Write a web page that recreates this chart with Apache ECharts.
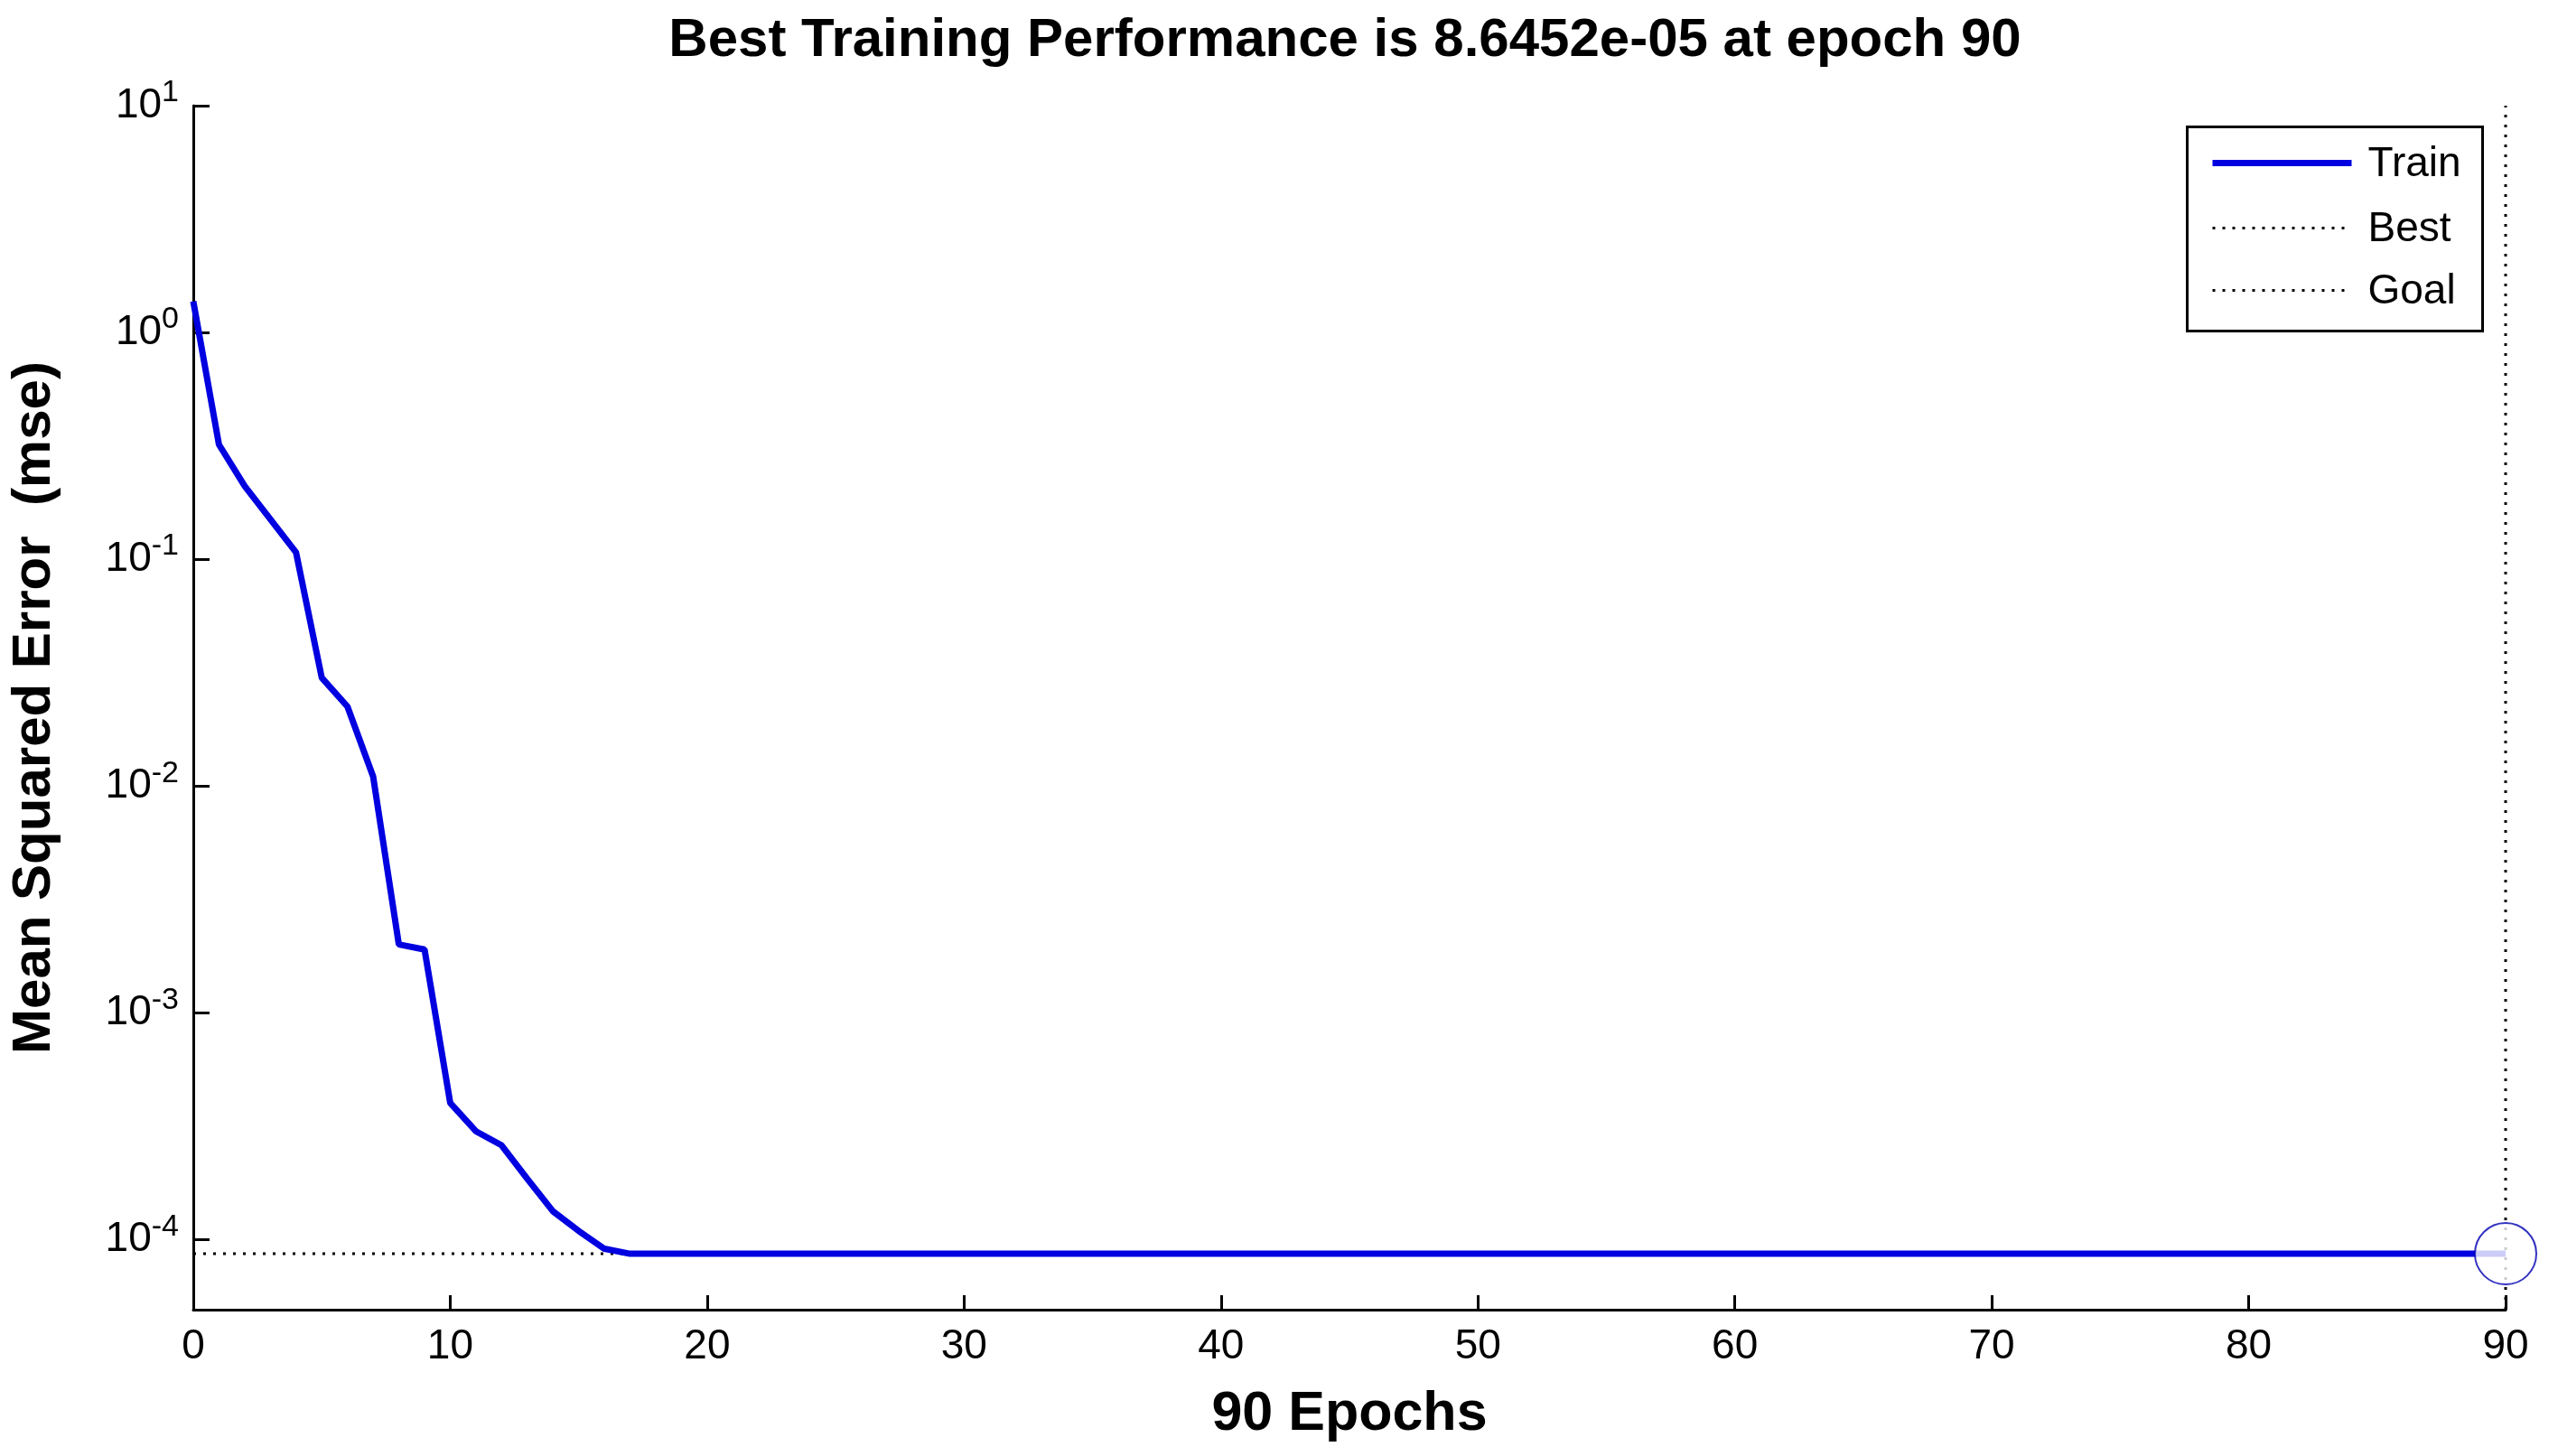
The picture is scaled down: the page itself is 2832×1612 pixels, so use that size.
<!DOCTYPE html>
<html><head><meta charset="utf-8">
<script src="https://cdn.jsdelivr.net/npm/echarts@6/dist/echarts.min.js"></script>
<style>html,body{margin:0;padding:0;background:#fff}#c{width:2832px;height:1612px}</style>
</head><body><div id="c"></div>
<script>
const epochs = [0,1,2,3,4,5,6,7,8,9,10,11,12,13,14,15,16,17,18,19,20,21,22,23,24,25,26,27,28,29,30,31,32,33,34,35,36,37,38,39,40,41,42,43,44,45,46,47,48,49,50,51,52,53,54,55,56,57,58,59,60,61,62,63,64,65,66,67,68,69,70,71,72,73,74,75,76,77,78,79,80,81,82,83,84,85,86,87,88,89,90];
const trainMse = [1.37,0.32,0.21,0.15,0.107,0.030,0.0224,0.011,0.0020,0.0019,4.0e-4,3.0e-4,2.6e-4,1.85e-4,1.33e-4,1.09e-4,9.1e-5,
8.6452e-5,8.6452e-5,8.6452e-5,8.6452e-5,8.6452e-5,8.6452e-5,8.6452e-5,8.6452e-5,8.6452e-5,8.6452e-5,
8.6452e-5,8.6452e-5,8.6452e-5,8.6452e-5,8.6452e-5,8.6452e-5,8.6452e-5,8.6452e-5,8.6452e-5,8.6452e-5,
8.6452e-5,8.6452e-5,8.6452e-5,8.6452e-5,8.6452e-5,8.6452e-5,8.6452e-5,8.6452e-5,8.6452e-5,8.6452e-5,
8.6452e-5,8.6452e-5,8.6452e-5,8.6452e-5,8.6452e-5,8.6452e-5,8.6452e-5,8.6452e-5,8.6452e-5,8.6452e-5,
8.6452e-5,8.6452e-5,8.6452e-5,8.6452e-5,8.6452e-5,8.6452e-5,8.6452e-5,8.6452e-5,8.6452e-5,8.6452e-5,
8.6452e-5,8.6452e-5,8.6452e-5,8.6452e-5,8.6452e-5,8.6452e-5,8.6452e-5,8.6452e-5,8.6452e-5,8.6452e-5,
8.6452e-5,8.6452e-5,8.6452e-5,8.6452e-5,8.6452e-5,8.6452e-5,8.6452e-5,8.6452e-5,8.6452e-5,8.6452e-5,
8.6452e-5,8.6452e-5,8.6452e-5,8.6452e-5];
const bestEpoch = 90;
const bestPerf = 8.6452e-5;
const yMin = 4.9e-5, yMax = 10;
const titleText = 'Best Training Performance is 8.6452e-05 at epoch 90';
const legendNames = ['Train','Best','Goal'];

const font = 'Liberation Sans, Arial, sans-serif';
const chart = echarts.init(document.getElementById('c'));
const lx = 2420, ly = 139;
const trainData = epochs.map((e,i)=>[e, trainMse[i] !== undefined ? trainMse[i] : bestPerf]);
chart.setOption({
  animation:false,
  backgroundColor:'#fff',
  title:{text:titleText,left:1484,top:10,textAlign:'center',
    textStyle:{fontFamily:font,fontSize:60,fontWeight:'bold',color:'#000'}},
  grid:{left:200,right:58,top:117,bottom:162},
  xAxis:{type:'value',min:0,max:90,interval:10,
    name:'90 Epochs',nameLocation:'middle',nameGap:86,
    nameTextStyle:{fontFamily:font,fontSize:61,fontWeight:'bold',color:'#000'},
    axisLine:{lineStyle:{color:'#000',width:3}},
    axisTick:{inside:true,length:16,lineStyle:{color:'#000',width:3}},
    axisLabel:{fontFamily:font,fontSize:46,color:'#000',margin:18},
    splitLine:{show:false}},
  yAxis:{type:'log',logBase:10,min:yMin,max:yMax,splitNumber:5,
    name:'Mean Squared Error  (mse)',nameLocation:'middle',nameGap:146,
    nameTextStyle:{fontFamily:font,fontSize:60,fontWeight:'bold',color:'#000'},
    axisLine:{show:true,lineStyle:{color:'#000',width:3}},
    axisTick:{show:true,inside:true,length:18,lineStyle:{color:'#000',width:3}},
    axisLabel:{fontFamily:font,fontSize:46,color:'#000',margin:16,
      formatter:v=>{const l=Math.log10(v);const r=Math.round(l);
        if(Math.abs(l-r)>1e-6) return '';return '{b|10}{s|'+r+'}';},
      rich:{b:{fontFamily:font,fontSize:46,color:'#000'},
            s:{fontFamily:font,fontSize:34,color:'#000',padding:[0,0,28,0]}}},
    splitLine:{show:false}},
  graphic:[{type:'group',left:lx,top:ly,children:[
    {type:'rect',shape:{x:0,y:0,width:327,height:226},style:{fill:'#fff',stroke:'#000',lineWidth:3}},
    {type:'line',shape:{x1:28,y1:40,x2:182,y2:40},style:{stroke:'#0000e0',lineWidth:7}},
    {type:'line',shape:{x1:28,y1:112,x2:182,y2:112},style:{stroke:'#000',lineWidth:3,lineDash:[3,8]}},
    {type:'line',shape:{x1:28,y1:181,x2:182,y2:181},style:{stroke:'#000',lineWidth:3,lineDash:[3,8]}},
    {type:'text',x:200,y:42,style:{text:legendNames[0],fontFamily:font,fontSize:46,fill:'#000',verticalAlign:'middle'}},
    {type:'text',x:200,y:114,style:{text:legendNames[1],fontFamily:font,fontSize:46,fill:'#000',verticalAlign:'middle'}},
    {type:'text',x:200,y:183,style:{text:legendNames[2],fontFamily:font,fontSize:46,fill:'#000',verticalAlign:'middle'}}
  ]}],
  series:[
    {name:'BestH',type:'line',data:[[0,bestPerf],[bestEpoch,bestPerf]],symbol:'none',
      lineStyle:{color:'#000',width:3,type:[3,8]},z:1},
    {name:'BestV',type:'line',data:[[bestEpoch,yMin],[bestEpoch,yMax]],symbol:'none',
      lineStyle:{color:'#000',width:3,type:[3,8]},z:1},
    {name:'Train',type:'line',data:trainData,symbol:'none',clip:false,
      lineStyle:{color:'#0000e0',width:7},z:3},
    {name:'BestPt',type:'scatter',data:[[bestEpoch,bestPerf]],symbol:'emptyCircle',symbolSize:68,
      itemStyle:{color:'#0000b0',borderColor:'#0000b0',borderWidth:5},z:4}
  ]
});
</script></body></html>
